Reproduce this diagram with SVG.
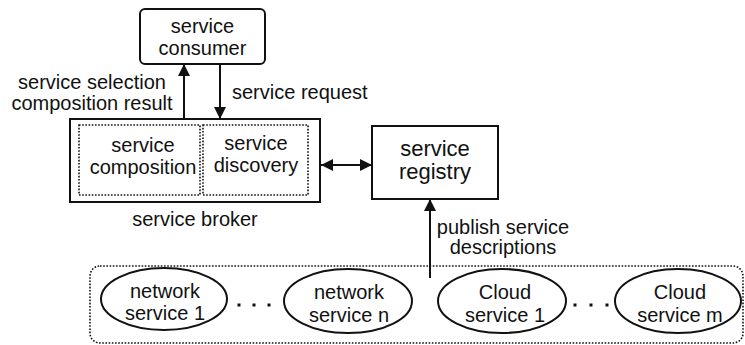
<svg xmlns="http://www.w3.org/2000/svg" width="745" height="345" viewBox="0 0 745 345">
<defs>
<marker id="ah" viewBox="0 0 12 12" refX="12" refY="6" markerWidth="12" markerHeight="12" markerUnits="userSpaceOnUse" orient="auto-start-reverse">
<path d="M0,0 L12,6 L0,12 Z" fill="#111"/>
</marker>
<style>
text{font-family:"Liberation Sans",Arial,sans-serif;font-size:20px;fill:#111;}
.c{text-anchor:middle;}
.box{fill:#fff;stroke:#111;stroke-width:2;}
.dot{fill:none;stroke:#111;stroke-width:1.6;stroke-dasharray:1.6 1.6;}
.ell{fill:#fff;stroke:#111;stroke-width:2;}
.ln{stroke:#111;stroke-width:2;fill:none;}
</style>
</defs>
<g id="providers">
<rect class="dot" x="90" y="266" width="653" height="77" rx="10"/>
</g>
<g id="connectors">
<line class="ln" x1="184" y1="119" x2="184" y2="64" marker-end="url(#ah)"/>
<line class="ln" x1="220" y1="64" x2="220" y2="119" marker-end="url(#ah)"/>
<line class="ln" x1="321" y1="165" x2="372" y2="165" marker-start="url(#ah)" marker-end="url(#ah)"/>
<line class="ln" x1="430" y1="278" x2="430" y2="199" marker-end="url(#ah)"/>
<text class="c" x="92" y="89">service selection</text>
<text class="c" x="92" y="110">composition result</text>
<text x="232" y="99">service request</text>
<text class="c" x="503" y="234">publish service</text>
<text class="c" x="503" y="254">descriptions</text>
</g>
<g id="consumer">
<rect class="box" x="140" y="9" width="125" height="55" rx="5"/>
<text class="c" x="202.5" y="33">service</text>
<text class="c" x="202.5" y="55">consumer</text>
</g>
<g id="broker">
<rect class="box" x="70" y="119" width="250" height="83"/>
<rect class="dot" x="79" y="125" width="121" height="70"/>
<rect class="dot" x="203" y="125" width="105" height="70"/>
<text class="c" x="143" y="152">service</text>
<text class="c" x="143" y="174">composition</text>
<text class="c" x="256" y="150">service</text>
<text class="c" x="256" y="172">discovery</text>
<text class="c" x="195" y="226">service broker</text>
</g>
<g id="registry">
<rect class="box" x="372" y="126" width="126" height="73"/>
<text class="c" x="435" y="156" style="font-size:22px">service</text>
<text class="c" x="435" y="179" style="font-size:22px">registry</text>
</g>
<g id="net1">
<ellipse class="ell" cx="164" cy="299" rx="63" ry="31"/>
<text class="c" x="165" y="298">network</text>
<text class="c" x="165" y="320">service 1</text>
</g>
<g id="dots1">
<rect x="237.5" y="303.5" width="3" height="3" fill="#111"/>
<rect x="252.5" y="303.5" width="3" height="3" fill="#111"/>
<rect x="267.5" y="303.5" width="3" height="3" fill="#111"/>
</g>
<g id="netn">
<ellipse class="ell" cx="348" cy="301" rx="64" ry="32"/>
<text class="c" x="349" y="299">network</text>
<text class="c" x="349" y="322">service n</text>
</g>
<g id="cloud1">
<ellipse class="ell" cx="502" cy="301" rx="64" ry="32"/>
<text class="c" x="505" y="299">Cloud</text>
<text class="c" x="505" y="322">service 1</text>
</g>
<g id="dots2">
<rect x="573.5" y="303.5" width="3" height="3" fill="#111"/>
<rect x="589.5" y="303.5" width="3" height="3" fill="#111"/>
<rect x="605.5" y="303.5" width="3" height="3" fill="#111"/>
</g>
<g id="cloudm">
<ellipse class="ell" cx="678" cy="301" rx="63" ry="32"/>
<text class="c" x="680" y="299">Cloud</text>
<text class="c" x="680" y="322">service m</text>
</g>
</svg>
